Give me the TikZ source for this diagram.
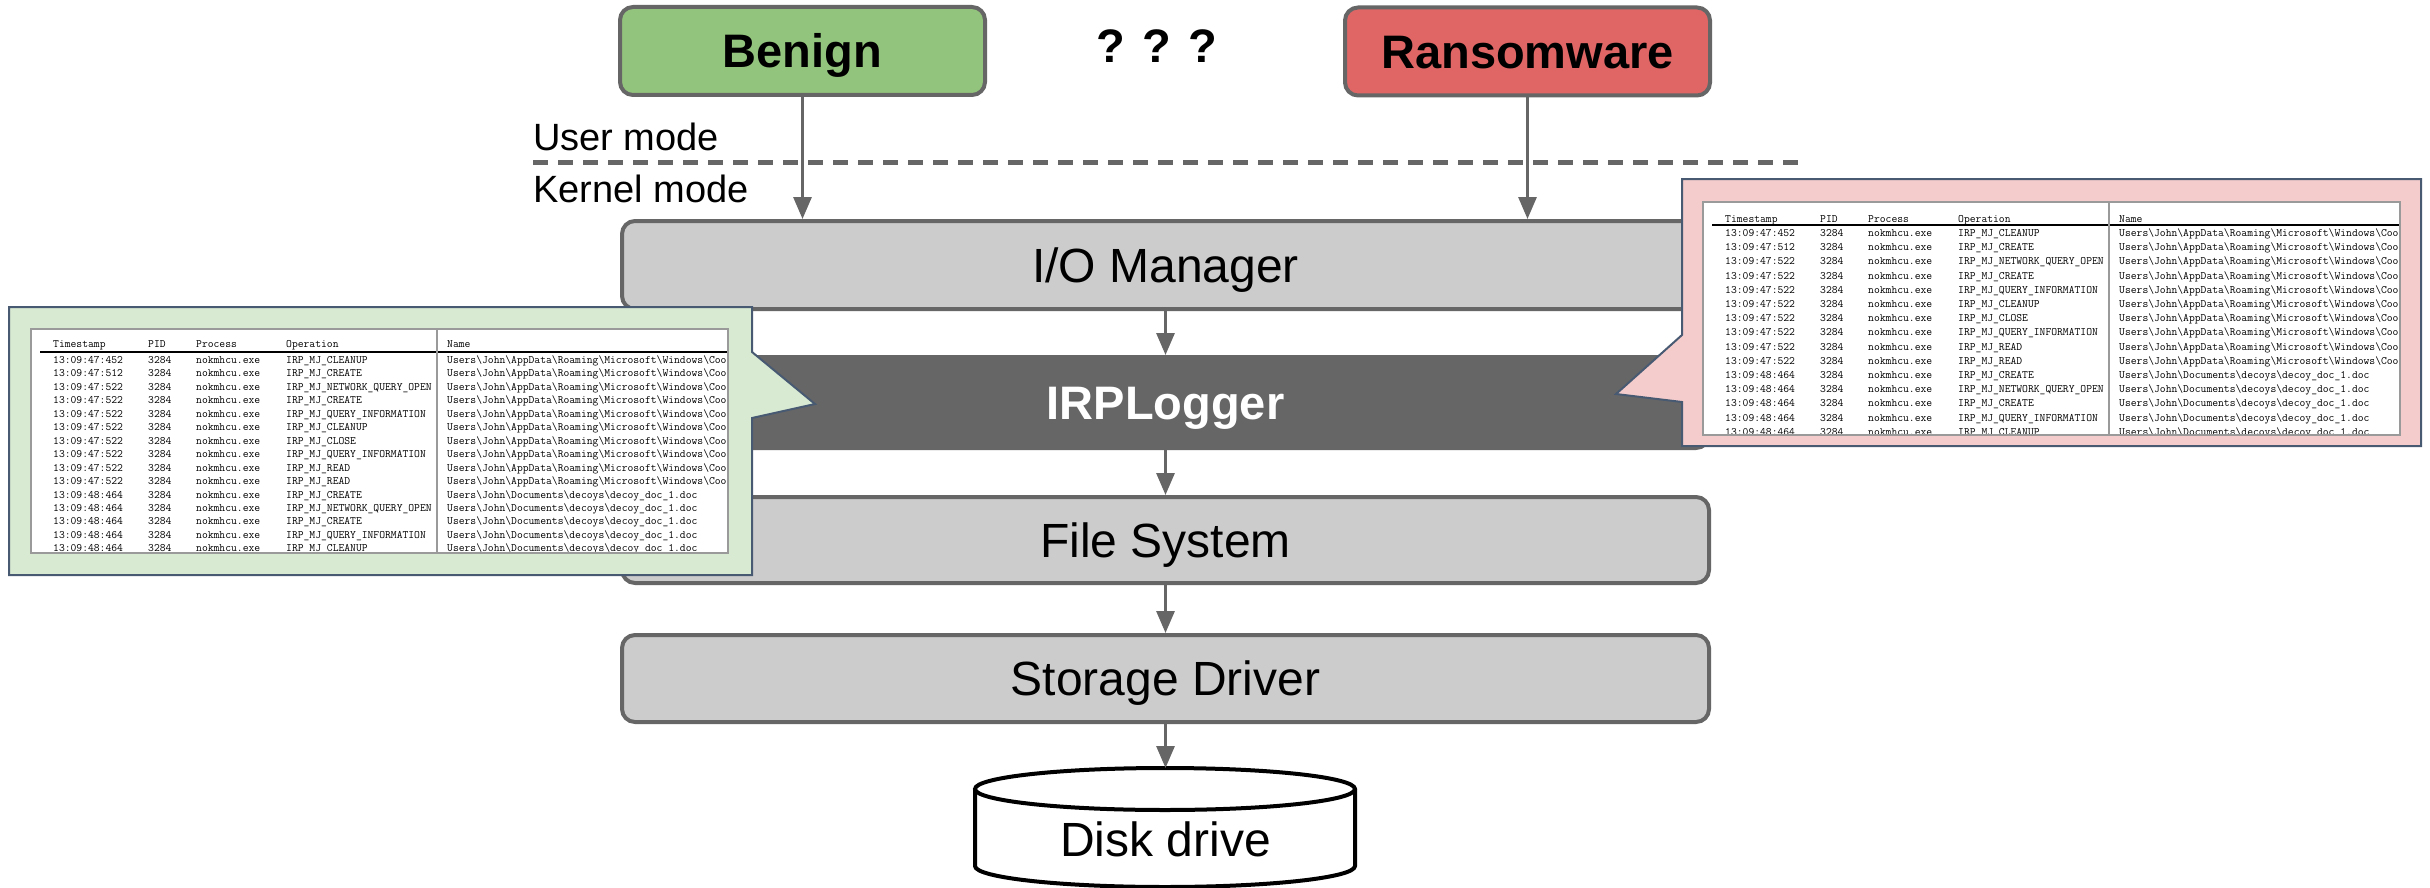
\documentclass[tikz,border=0pt]{standalone}
\usepackage{fontspec}
\setmainfont{Liberation Sans}
\usetikzlibrary{arrows.meta}

\definecolor{benigngreen}{HTML}{93C47D}
\definecolor{ransomred}{HTML}{E06666}
\definecolor{layergray}{HTML}{CCCCCC}
\definecolor{loggergray}{HTML}{666666}
\definecolor{edgegray}{HTML}{666666}
\definecolor{calloutgreen}{HTML}{D9EAD3}
\definecolor{calloutpink}{HTML}{F4CCCC}
\definecolor{calloutedge}{HTML}{485A72}
\definecolor{tableedge}{HTML}{9A9A9A}

% file paths shown in the Name column
\newcommand\appdatapath{Users\textbackslash John\textbackslash AppData\textbackslash Roaming\textbackslash Microsoft\textbackslash Windows\textbackslash Coo}
\newcommand\decoypath{Users\textbackslash John\textbackslash Documents\textbackslash decoys\textbackslash decoy\_doc\_1.doc}

% captured IRP records: time suffix / operation / file name
\def\irprows{%
  47:452/CLEANUP/\appdatapath,
  47:512/CREATE/\appdatapath,
  47:522/NETWORK\_QUERY\_OPEN/\appdatapath,
  47:522/CREATE/\appdatapath,
  47:522/QUERY\_INFORMATION/\appdatapath,
  47:522/CLEANUP/\appdatapath,
  47:522/CLOSE/\appdatapath,
  47:522/QUERY\_INFORMATION/\appdatapath,
  47:522/READ/\appdatapath,
  47:522/READ/\appdatapath,
  48:464/CREATE/\decoypath,
  48:464/NETWORK\_QUERY\_OPEN/\decoypath,
  48:464/CREATE/\decoypath,
  48:464/QUERY\_INFORMATION/\decoypath,
  48:464/CLEANUP/\decoypath}

% \logtable{prefix}{left}{top}{height}{row step}{header baseline offset}
\newcommand\logtable[6]{%
  \fill[white] (#2,#3) rectangle ++(697,#4);
  \begin{scope}
    \clip (#2,#3) rectangle ++(697,#4);
    \node[logtxt] (#1-h-ts) at (#2+22,#3+#6) {Timestamp};
    \node[logtxt] (#1-h-pid) at (#2+117,#3+#6) {PID};
    \node[logtxt] (#1-h-proc) at (#2+165,#3+#6) {Process};
    \node[logtxt] (#1-h-op) at (#2+255,#3+#6) {Operation};
    \node[logtxt] (#1-h-name) at (#2+416,#3+#6) {Name};
    \draw[line width=1.4pt] (#2+9,#3+23) -- (#2+697,#3+23);
    \foreach \ts/\op/\nm [count=\rowno from 0] in \irprows {
      \pgfmathsetmacro\yy{#3+34.5+\rowno*#5}
      \node[logtxt] (#1-\rowno-ts) at (#2+22,\yy) {13:09:\ts};
      \node[logtxt] (#1-\rowno-pid) at (#2+117,\yy) {3284};
      \node[logtxt] (#1-\rowno-proc) at (#2+165,\yy) {nokmhcu.exe};
      \node[logtxt] (#1-\rowno-op) at (#2+255,\yy) {IRP\_MJ\_\op};
      \node[logtxt] (#1-\rowno-name) at (#2+416,\yy) {\nm};
    }
  \end{scope}
  \draw[tableedge, line width=2pt] (#2+406,#3) -- (#2+406,#3+#4);
  \draw[tableedge, line width=2pt] (#2,#3) rectangle ++(697,#4);
}

\begin{document}
\begin{tikzpicture}[x=1pt, y=-1pt,
  lbl/.style={text height=34pt, text depth=0pt, inner sep=0pt},
  actor/.style={lbl, draw=edgegray, line width=4pt, rounded corners=13pt,
    minimum width=365pt, minimum height=88pt,
    font=\bfseries\fontsize{47}{56}\selectfont},
  layer/.style={lbl, draw=edgegray, line width=4pt, rounded corners=13pt,
    fill=layergray, minimum width=1087pt,
    font=\fontsize{48}{58}\selectfont},
  modetxt/.style={inner sep=0pt, anchor=base west, font=\fontsize{38}{46}\selectfont},
  flow/.style={draw=edgegray, line width=3pt, -{Triangle[length=22pt, width=18pt]}},
  callout/.style={draw=calloutedge, line width=2pt, line join=miter},
  logtxt/.style={inner sep=0pt, anchor=base west, text=black,
    font=\ttfamily\fontsize{11.3}{13}\selectfont},
]
\useasboundingbox (0,0) rectangle (2430,888);
\fill[white] (0,0) rectangle (2430,888);

% user / kernel boundary
\coordinate (modeL) at (533,162);
\coordinate (modeR) at (1801,162);
\draw[edgegray, line width=5pt, dash pattern=on 15pt off 10pt] (modeL) -- (modeR);
\node[modetxt] (usermode) at (533,150) {User mode};
\node[modetxt] (kernelmode) at (533,202) {Kernel mode};

% applications
\node[actor, fill=benigngreen] (benign) at (802.5,51) {Benign};
\node[actor, fill=ransomred] (ransom) at (1527.5,51.5) {Ransomware};
\node[inner sep=0pt, anchor=base, font=\bfseries\fontsize{47}{56}\selectfont] (qm) at (1157,63) {? ? ?};

% kernel I/O stack
\node[layer, minimum height=88pt] (io) at (1165.5,265) {I/O Manager};
\node[layer, minimum height=91pt, fill=loggergray, draw=loggergray, text=white,
  font=\bfseries\fontsize{47}{56}\selectfont] (logger) at (1165.5,402.5) {IRPLogger};
\node[layer, minimum height=86pt] (fs) at (1165.5,540) {File System};
\node[layer, minimum height=87pt] (sd) at (1165.5,678.5) {Storage Driver};

% disk drive cylinder
\draw[line width=4pt, fill=white] (975,789) -- (975,866)
  arc[start angle=180, end angle=0, x radius=190, y radius=21] -- (1355,789);
\draw[line width=4pt, fill=white] (1165,789) ellipse [x radius=190, y radius=21];
\coordinate (disktop) at (1165.5,768);
\node[lbl, font=\fontsize{48}{58}\selectfont] (disk) at (1165.5,839.5) {Disk drive};

% request flow
\draw[flow] (benign.south) -- (benign.south |- io.north);
\draw[flow] (ransom.south) -- (ransom.south |- io.north);
\draw[flow] (io.south) -- (logger.north);
\draw[flow] (logger.south) -- (fs.north);
\draw[flow] (fs.south) -- (sd.north);
\draw[flow] (sd.south) -- (disktop);

% benign trace callout
\draw[callout, fill=calloutgreen] (9,307) -- (752,307) -- (752,352) -- (815,404)
  -- (752,418) -- (752,575) -- (9,575) -- cycle;
\logtable{L}{31}{329}{224}{13.45}{18.5}

% ransomware trace callout
\draw[callout, fill=calloutpink] (1682,179) -- (2421,179) -- (2421,446) -- (1682,446)
  -- (1682,402) -- (1616,394) -- (1682,335) -- cycle;
\logtable{R}{1703}{202}{233}{14.2}{20.5}
\end{tikzpicture}
\end{document}
